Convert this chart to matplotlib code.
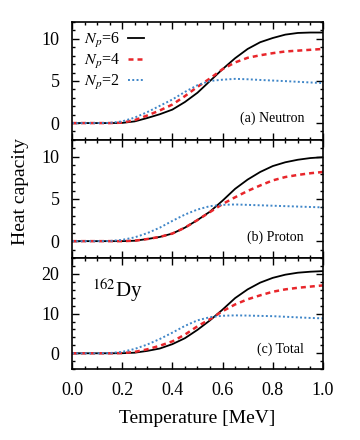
import numpy as np
import matplotlib
matplotlib.use("Agg")
import matplotlib.pyplot as plt
from matplotlib.ticker import MultipleLocator

plt.rcParams['font.family'] = ['Liberation Serif', 'DejaVu Serif']
plt.rcParams['mathtext.fontset'] = 'stix'

# temperature grid [MeV]
T = [0.0, 0.1, 0.15, 0.2, 0.25, 0.3, 0.35, 0.4, 0.45, 0.5, 0.55, 0.6,
     0.65, 0.7, 0.75, 0.8, 0.85, 0.9, 0.95, 1.0]

# (a) neutron heat capacity
neu_np6 = [0, 0, 0, 0.02, 0.2, 0.6, 1.05, 1.6, 2.5, 3.6, 5.0, 6.4, 7.7, 8.8, 9.6, 10.1, 10.5, 10.7, 10.75, 10.75]
neu_np4 = [0, 0, 0, 0.05, 0.35, 0.9, 1.5, 2.2, 3.2, 4.3, 5.3, 6.4, 7.2, 7.75, 8.05, 8.3, 8.5, 8.6, 8.7, 8.8]
neu_np2 = [0, 0, 0.02, 0.2, 0.65, 1.3, 2.05, 2.8, 3.7, 4.5, 5.0, 5.15, 5.25, 5.2, 5.12, 5.05, 4.98, 4.9, 4.82, 4.75]

# (b) proton heat capacity
pro_np6 = [0, 0, 0, 0.0, 0.05, 0.25, 0.5, 0.9, 1.6, 2.5, 3.5, 4.8, 6.2, 7.3, 8.2, 8.9, 9.35, 9.65, 9.85, 9.95]
pro_np4 = [0, 0, 0, 0.0, 0.05, 0.25, 0.5, 0.9, 1.6, 2.5, 3.45, 4.4, 5.2, 5.95, 6.6, 7.2, 7.6, 7.85, 8.05, 8.2]
pro_np2 = [0, 0, 0.02, 0.15, 0.45, 0.95, 1.6, 2.4, 3.15, 3.75, 4.15, 4.3, 4.35, 4.3, 4.25, 4.2, 4.15, 4.1, 4.05, 4.0]

# (c) total heat capacity
tot_np6 = [0, 0, 0, 0.02, 0.15, 0.6, 1.2, 2.3, 3.8, 5.9, 8.3, 11.0, 13.9, 16.1, 17.8, 19.0, 19.8, 20.3, 20.55, 20.7]
tot_np4 = [0, 0, 0, 0.05, 0.35, 1.0, 1.9, 3.0, 4.7, 6.8, 8.6, 10.6, 12.3, 13.6, 14.6, 15.5, 16.1, 16.5, 16.8, 17.1]
tot_np2 = [0, 0, 0.05, 0.35, 1.1, 2.2, 3.6, 5.2, 6.9, 8.3, 9.1, 9.45, 9.55, 9.5, 9.42, 9.35, 9.2, 9.05, 8.9, 8.8]

labels = ['$N_p$=6', '$N_p$=4', '$N_p$=2']
colors = ['black', '#e8262b', '#3f86c8']
styles = [dict(ls='-', lw=1.3), dict(ls=(0, (2.0, 1.6)), lw=1.8), dict(ls=(0, (1, 1.2)), lw=1.4)]

panels = [
    ([neu_np6, neu_np4, neu_np2], '(a) Neutron', (-2, 12), 1, [0, 5, 10]),
    ([pro_np6, pro_np4, pro_np2], '(b) Proton', (-2, 12), 1, [0, 5, 10]),
    ([tot_np6, tot_np4, tot_np2], '(c) Total', (-4, 24), 2, [0, 10, 20]),
]

fig = plt.figure(figsize=(3.6, 4.4), dpi=100)
boxes = [(0.2, 0.682, 0.697, 0.268), (0.2, 0.4136, 0.697, 0.2684), (0.2, 0.161, 0.697, 0.2526)]

for i, (series, tag, ylim, minor, yt) in enumerate(panels):
    ax = fig.add_axes(boxes[i])
    for s, lab, c, st in zip(series, labels, colors, styles):
        ax.plot(T, s, color=c, label=lab, **st)
    ax.set_xlim(0, 1)
    ax.set_ylim(*ylim)
    ax.set_yticks(yt)
    ax.xaxis.set_major_locator(MultipleLocator(0.2))
    ax.xaxis.set_minor_locator(MultipleLocator(0.05))
    ax.yaxis.set_minor_locator(MultipleLocator(minor))
    ax.tick_params(which='both', direction='in', top=True, right=True, labelsize=13)
    ax.tick_params(which='major', length=5, width=1)
    ax.tick_params(which='minor', length=2.5, width=1)
    ax.tick_params(axis='y', pad=9)
    ax.tick_params(axis='x', pad=9)
    for sp in ax.spines.values():
        sp.set_linewidth(1.2)
    ax.text(0.925, 0.18, tag, transform=ax.transAxes, ha='right', va='center', fontsize=10)
    if i < 2:
        ax.tick_params(labelbottom=False)
    else:
        ax.set_xlabel('Temperature [MeV]', fontsize=14, labelpad=8)
        ax.text(0.08, 0.71, '$^{162}$Dy', transform=ax.transAxes, ha='left', va='center', fontsize=15)
    if i == 0:
        ax.legend(loc='upper left', bbox_to_anchor=(-0.01, 1.045), frameon=False, markerfirst=False,
                  fontsize=11.5, handlelength=1.0, labelspacing=0.12, handletextpad=0.5)

fig.text(0.056, 0.565, 'Heat capacity', rotation=90, ha='center', va='center', fontsize=14)

fig.savefig('out.png', dpi=100)
